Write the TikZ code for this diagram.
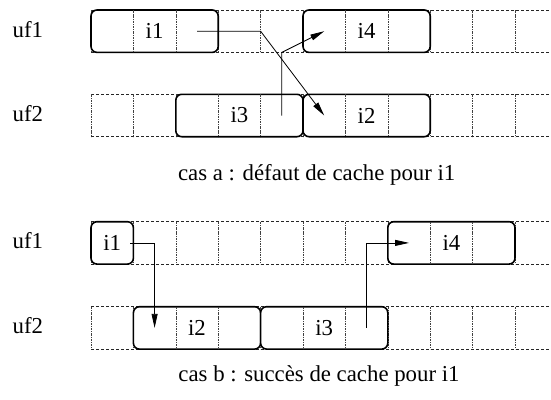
\documentclass[tikz,border=0pt]{standalone}
\usepackage{fontspec}
\setmainfont{Liberation Serif}
\usetikzlibrary{arrows.meta}
\def\cw{42.4}
\def\rh{42.4}
\tikzset{
  hline/.style={line width=0.6pt, black!85, dash pattern=on 3pt off 2pt},
  vline/.style={line width=0.6pt, black!75, dash pattern=on 2.5pt off 1pt on 0.8pt off 1pt},
  blockbox/.style={draw, line width=1.6pt, rounded corners=6pt, fill=white, inner sep=0pt,
    minimum height=\rh pt, font=\fontsize{22.8}{26}\selectfont},
  lbl/.style={inner sep=0pt, anchor=base west, font=\fontsize{22.8}{26}\selectfont},
  captext/.style={inner sep=0pt, anchor=base, font=\fontsize{22.8}{26}\selectfont},
  conn/.style={line width=0.8pt, -{Triangle[length=14pt,width=6pt]}}
}
% grid row: #1 = top y
\newcommand{\gridrow}[1]{%
  \draw[hline] (91,#1) -- (551,#1);
  \draw[hline] (91,#1+\rh) -- (551,#1+\rh);
  \foreach \k in {0,...,10} {\draw[vline] (91+\k*\cw,#1) -- (91+\k*\cw,#1+\rh);}
}
% block: #1 name, #2 first column, #3 number of cells, #4 top y, #5 text
\newcommand{\blockat}[5]{%
  \node[blockbox, minimum width=#3*\cw pt] (#1) at (91+#2*\cw+#3*\cw/2, #4+\rh/2) {#5};
  \ifnum#3>1
    \foreach \k in {1,...,\numexpr#3-1\relax} {\draw[vline] (91+#2*\cw+\k*\cw,#4) -- (91+#2*\cw+\k*\cw,#4+\rh);}
  \fi
}
\begin{document}
\begin{tikzpicture}[x=1pt,y=-1pt]
\useasboundingbox (0,0) rectangle (551,399);
% ---------- cas a ----------
\gridrow{10}
\gridrow{94.3}
\node[lbl] (ufa1) at (12.5,37.2) {uf1};
\node[lbl] (ufa2) at (12.5,121.5) {uf2};
\blockat{ai1}{0}{3}{10}{i1}
\blockat{ai4}{5}{3}{10}{i4}
\blockat{ai3}{2}{3}{94.3}{i3}
\blockat{ai2}{5}{3}{94.3}{i2}
\coordinate (a1s) at (197.0,31.2);
\coordinate (a1m) at (260.6,31.2);
\coordinate (a1e) at (324.2,115.5);
\coordinate (a2s) at (281.8,115.5);
\coordinate (a2m) at (281.8,52.4);
\coordinate (a2e) at (324.2,31.2);
\draw[conn] (a1s) -- (a1m) -- (a1e);
\draw[conn] (a2s) -- (a2m) -- (a2e);
\node[captext] (capa) at (316.7,180) {cas a : défaut de cache pour i1};
% ---------- cas b ----------
\gridrow{221.7}
\gridrow{306.7}
\node[lbl] (ufb1) at (12.5,248.9) {uf1};
\node[lbl] (ufb2) at (12.5,333.9) {uf2};
\blockat{bi1}{0}{1}{221.7}{i1}
\blockat{bi4}{7}{3}{221.7}{i4}
\blockat{bi2}{1}{3}{306.7}{i2}
\blockat{bi3}{4}{3}{306.7}{i3}
\coordinate (b1s) at (130,242.9);
\coordinate (b1e) at (154.6,327.9);
\coordinate (b2s) at (366.6,327.9);
\coordinate (b2e) at (409.0,242.9);
\draw[conn] (b1s) -| (b1e);
\draw[conn] (b2s) |- (b2e);
\node[captext] (capb) at (319,381.5) {cas b : succès de cache pour i1};
\end{tikzpicture}
\end{document}
